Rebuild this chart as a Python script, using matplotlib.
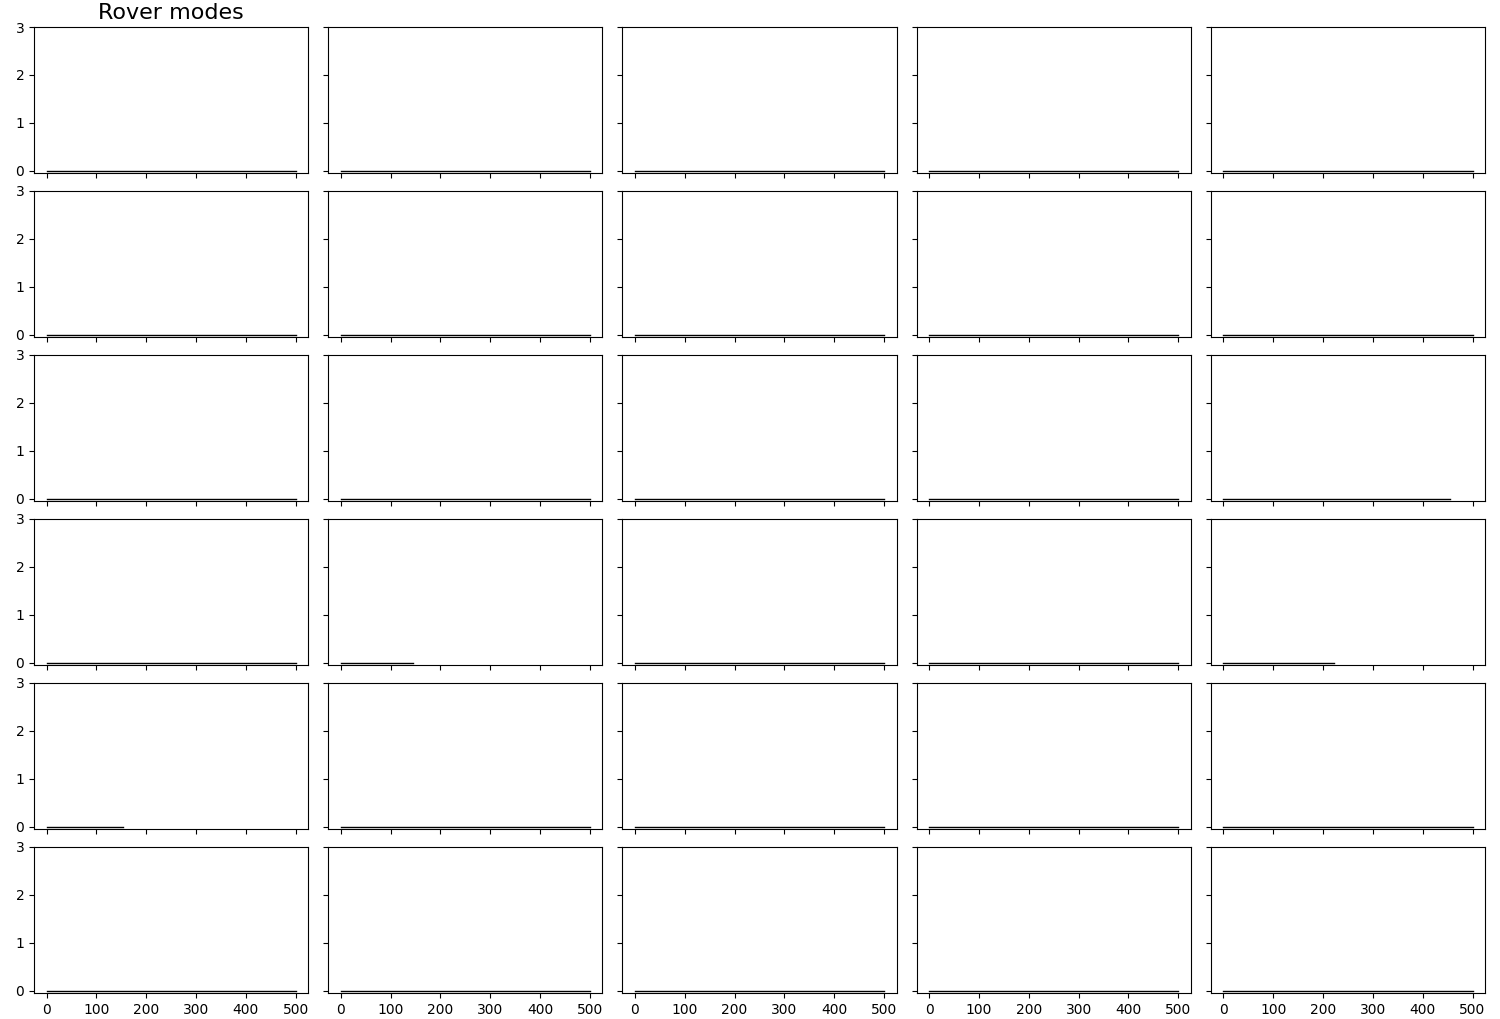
import matplotlib
matplotlib.use('Agg')
import matplotlib.pyplot as plt

# end time of each rover's mode trace (rows x cols), mode stays at 0
end_times = [
    [500, 500, 500, 500, 500],
    [500, 500, 500, 500, 500],
    [500, 500, 500, 500, 454],
    [500, 146, 500, 500, 222],
    [154, 500, 500, 500, 500],
    [500, 500, 500, 500, 500],
]
mode_value = 0
x_ticks = [0, 100, 200, 300, 400, 500]
y_ticks = [0, 1, 2, 3]

fig, axes = plt.subplots(6, 5, figsize=(15, 10.19), dpi=100, sharex=True, sharey=True)
for r in range(6):
    for c in range(5):
        ax = axes[r][c]
        ax.plot([0, end_times[r][c]], [mode_value, mode_value], color='k', lw=1)
        ax.set_xticks(x_ticks)
        ax.set_yticks(y_ticks)
        ax.set_ylim(-0.05, 3)
        ax.set_xlim(-25, 525)

axes[0][0].set_title('Rover modes', fontsize=16)
fig.subplots_adjust(left=0.0227, right=0.99, top=0.9735, bottom=0.0255,
                    wspace=0.073, hspace=0.123)
fig.savefig('out.png')
